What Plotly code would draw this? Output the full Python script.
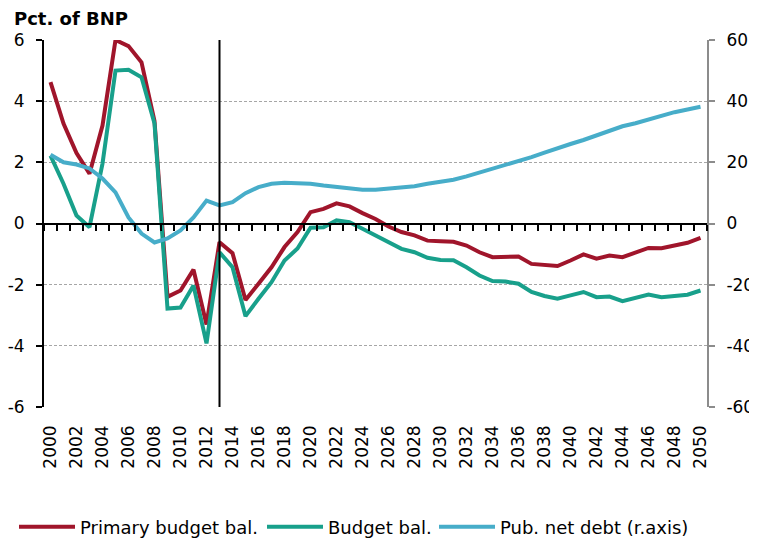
import plotly.graph_objects as go

years = list(range(2000, 2051))

primary_budget_bal = [4.62, 3.27, 2.3, 1.63, 3.2, 6.0, 5.8, 5.27, 3.35, -2.4,
                      -2.19, -1.51, -3.3, -0.61, -0.97, -2.5, -1.97, -1.43, -0.77, -0.28,
                      0.37, 0.48, 0.66, 0.56, 0.34, 0.15, -0.1, -0.28, -0.39, -0.56,
                      -0.58, -0.6, -0.72, -0.94, -1.1, -1.08, -1.08, -1.32, -1.37, -1.39,
                      -1.21, -1.01, -1.15, -1.05, -1.1, -0.94, -0.8, -0.81, -0.72, -0.63,
                      -0.47]

budget_bal = [2.22, 1.3, 0.26, -0.12, 1.96, 5.0, 5.03, 4.78, 3.27, -2.78,
              -2.75, -2.03, -3.92, -0.94, -1.43, -3.03, -2.46, -1.92, -1.21, -0.82,
              -0.14, -0.12, 0.1, 0.04, -0.17, -0.39, -0.61, -0.83, -0.94, -1.12,
              -1.19, -1.2, -1.43, -1.7, -1.88, -1.9, -1.97, -2.24, -2.37, -2.46,
              -2.35, -2.24, -2.41, -2.39, -2.54, -2.43, -2.32, -2.41, -2.37, -2.33,
              -2.19]

pub_net_debt = [22.5, 20.0, 19.3, 18.0, 14.7, 10.2, 2.0, -3.3, -6.2, -4.9,
                -2.3, 2.0, 7.5, 5.9, 7.0, 9.9, 11.9, 13.0, 13.3, 13.3,
                13.0, 12.4, 11.9, 11.3, 11.0, 11.0, 11.3, 11.7, 12.2, 13.0,
                13.5, 14.3, 15.4, 16.6, 17.9, 19.0, 20.4, 21.7, 23.2, 24.7,
                26.0, 27.3, 28.9, 30.4, 31.8, 32.8, 34.0, 35.3, 36.4, 37.3,
                38.2]

tick_years = list(range(2000, 2051, 2))
tick_labels = [str(y) for y in tick_years]
left_ticks = [-6, -4, -2, 0, 2, 4, 6]
left_tick_labels = [str(v) for v in left_ticks]
right_ticks = [-60, -40, -20, 0, 20, 40, 60]
right_tick_labels = [str(v) for v in right_ticks]
boundaries = [y - 0.5 for y in range(2000, 2052)]
marker_year = 2013

RED = "#A0152B"
GREEN = "#18A08B"
BLUE = "#47ADC9"
FONT = "DejaVu Sans"

# the page has an 8px body margin, so the figure is shifted by OFF on screen
OFF = 8
W, H = 757, 545
L, T = 44 - OFF, 40 - OFF
PW, PH = 663, 367
R, B = W - L - PW, H - T - PH


def px_to_paper_x(sx):
    return (sx - OFF - L) / PW


def px_to_paper_y(sy):
    return (T + PH - (sy - OFF)) / PH


fig = go.Figure()
fig.add_trace(go.Scatter(x=years, y=primary_budget_bal, name="Primary budget bal.",
                         mode="lines", line=dict(color=RED, width=4), legend="legend"))
fig.add_trace(go.Scatter(x=years, y=budget_bal, name="Budget bal.",
                         mode="lines", line=dict(color=GREEN, width=4), legend="legend2"))
fig.add_trace(go.Scatter(x=years, y=pub_net_debt, name="Pub. net debt (r.axis)",
                         mode="lines", line=dict(color=BLUE, width=4), yaxis="y2",
                         legend="legend3"))
# invisible trace hosting the zero-line axis with its ticks
fig.add_trace(go.Scatter(x=[years[0]], y=[None], xaxis="x2", showlegend=False,
                         hoverinfo="skip", mode="lines"))

fig.add_shape(type="line", xref="x", yref="paper", x0=marker_year, x1=marker_year,
              y0=0, y1=1, line=dict(color="black", width=2))

leg_common = dict(orientation="h", xref="paper", yref="paper", xanchor="left",
                  yanchor="middle", font=dict(size=18), itemwidth=56,
                  bgcolor="rgba(0,0,0,0)")

fig.update_layout(
    width=W, height=H,
    margin=dict(l=L, r=R, t=T, b=B, autoexpand=False),
    plot_bgcolor="white", paper_bgcolor="white",
    font=dict(family=FONT, size=17, color="black"),
    xaxis=dict(range=[1999.5, 2050.5], tickmode="array", tickvals=tick_years,
               ticktext=tick_labels, tickangle=-90, showgrid=False, zeroline=False,
               showline=False, ticks="", tickfont=dict(size=17),
               ticklabelstandoff=14, automargin=False),
    xaxis2=dict(overlaying="x", anchor="free", position=0.5, side="bottom",
                range=[1999.5, 2050.5], tickmode="array", tickvals=boundaries,
                showticklabels=False, ticks="outside", ticklen=6, tickwidth=2,
                tickcolor="black", showline=True, linecolor="black", linewidth=2,
                showgrid=False, zeroline=False, automargin=False),
    yaxis=dict(range=[-6, 6], tickmode="array", tickvals=left_ticks,
               ticktext=left_tick_labels,
               showline=True, linecolor="black", linewidth=2,
               ticks="outside", ticklen=6, tickwidth=2, tickcolor="black",
               showgrid=True, gridcolor="#a6a6a6", gridwidth=1, griddash="3px,2px",
               zeroline=False, tickfont=dict(size=17), ticklabelstandoff=8,
               automargin=False),
    yaxis2=dict(range=[-60, 60], tickmode="array", tickvals=right_ticks,
                ticktext=right_tick_labels,
                overlaying="y", side="right", showline=True, linecolor="#8c8c8c",
                linewidth=2, ticks="outside", ticklen=6, tickwidth=2,
                tickcolor="#8c8c8c", showgrid=False, zeroline=False,
                tickfont=dict(size=17), ticklabelstandoff=8, automargin=False),
    legend=dict(x=px_to_paper_x(14), y=px_to_paper_y(527), **leg_common),
    legend2=dict(x=px_to_paper_x(262), y=px_to_paper_y(527), **leg_common),
    legend3=dict(x=px_to_paper_x(434), y=px_to_paper_y(527), **leg_common),
    showlegend=True,
)

fig.add_annotation(text="<b>Pct. of BNP</b>", xref="paper", yref="paper",
                   x=px_to_paper_x(12), y=px_to_paper_y(18), xanchor="left",
                   yanchor="middle", showarrow=False,
                   font=dict(family=FONT, size=18, color="black"))

fig.write_html("out.html")
